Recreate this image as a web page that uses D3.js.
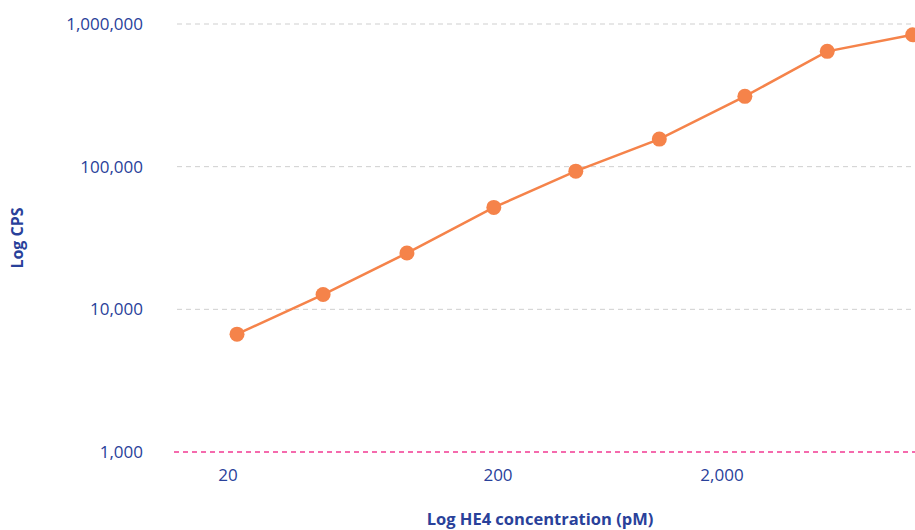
<!DOCTYPE html>
<html>
<head>
<meta charset="utf-8">
<script src="https://cdn.jsdelivr.net/npm/d3@7"></script>
<style>
  body { margin: 0; background: #fff; overflow: hidden; }
  svg { display: block; font-family: "Open Sans", "Noto Sans", sans-serif; }
</style>
</head>
<body>
<div id="chart"></div>
<script>
// HE4 standard curve
var concentrations = [21.6, 45, 92, 193, 445, 1050, 2530, 5900, 14200]; // pM
var cps = [6700, 12700, 24800, 51800, 93000, 156000, 311000, 643000, 840000];
var xTicks = [20, 200, 2000];
var yTicks = [1000, 10000, 100000, 1000000];
var cutoff = 1000;

var width = 915, height = 530;
var textColor = "#29419a";
var lineColor = "#f5834a";

var svg = d3.select("#chart").append("svg")
    .attr("width", width)
    .attr("height", height);

// x axis is drawn with uneven decades in the original, so use a piecewise log scale
var x = d3.scaleLog()
    .domain(xTicks)
    .range([228, 498, 722]);

var y = d3.scaleLog()
    .domain([1000, 1000000])
    .range([452, 24]);

// Grid lines
svg.append("g")
    .selectAll("line")
    .data(yTicks.filter(function(d) { return d !== cutoff; }))
    .enter().append("line")
    .attr("x1", 177)
    .attr("x2", width)
    .attr("y1", function(d) { return y(d); })
    .attr("y2", function(d) { return y(d); })
    .attr("stroke", "#cfcfcf")
    .attr("stroke-width", 1)
    .attr("stroke-dasharray", "5,4");

// cutoff line
svg.append("line")
    .attr("x1", 174)
    .attr("x2", width)
    .attr("y1", y(cutoff))
    .attr("y2", y(cutoff))
    .attr("stroke", "#f23a93")
    .attr("stroke-width", 1.3)
    .attr("stroke-dasharray", "5,4");

// y tick labels
svg.append("g")
    .selectAll("text")
    .data(yTicks)
    .enter().append("text")
    .attr("x", 143)
    .attr("y", function(d) { return y(d); })
    .attr("dy", "0.35em")
    .attr("text-anchor", "end")
    .attr("fill", textColor)
    .style("font-size", "17px")
    .text(d3.format(","));

// x tick labels
svg.append("g")
    .selectAll("text")
    .data(xTicks)
    .enter().append("text")
    .attr("x", function(d) { return x(d); })
    .attr("y", 481)
    .attr("text-anchor", "middle")
    .attr("fill", textColor)
    .style("font-size", "17px")
    .text(d3.format(","));

// Axis titles
svg.append("text")
    .attr("transform", "translate(23,238) rotate(-90)")
    .attr("text-anchor", "middle")
    .attr("fill", textColor)
    .style("font-size", "16px")
    .style("font-weight", "bold")
    .text("Log CPS");

svg.append("text")
    .attr("x", 540)
    .attr("y", 525)
    .attr("text-anchor", "middle")
    .attr("fill", textColor)
    .style("font-size", "16.5px")
    .style("font-weight", "bold")
    .text("Log HE4 concentration (pM)");

// Line + dots
var points = concentrations.map(function(c, i) { return {x: c, y: cps[i]}; });

var line = d3.line()
    .x(function(d) { return x(d.x); })
    .y(function(d) { return y(d.y); });

svg.append("path")
    .datum(points)
    .attr("d", line)
    .attr("fill", "none")
    .attr("stroke", lineColor)
    .attr("stroke-width", 2.5);

svg.append("g")
    .selectAll("circle")
    .data(points)
    .enter().append("circle")
    .attr("cx", function(d) { return x(d.x); })
    .attr("cy", function(d) { return y(d.y); })
    .attr("r", 7.5)
    .attr("fill", lineColor);
</script>
</body>
</html>
